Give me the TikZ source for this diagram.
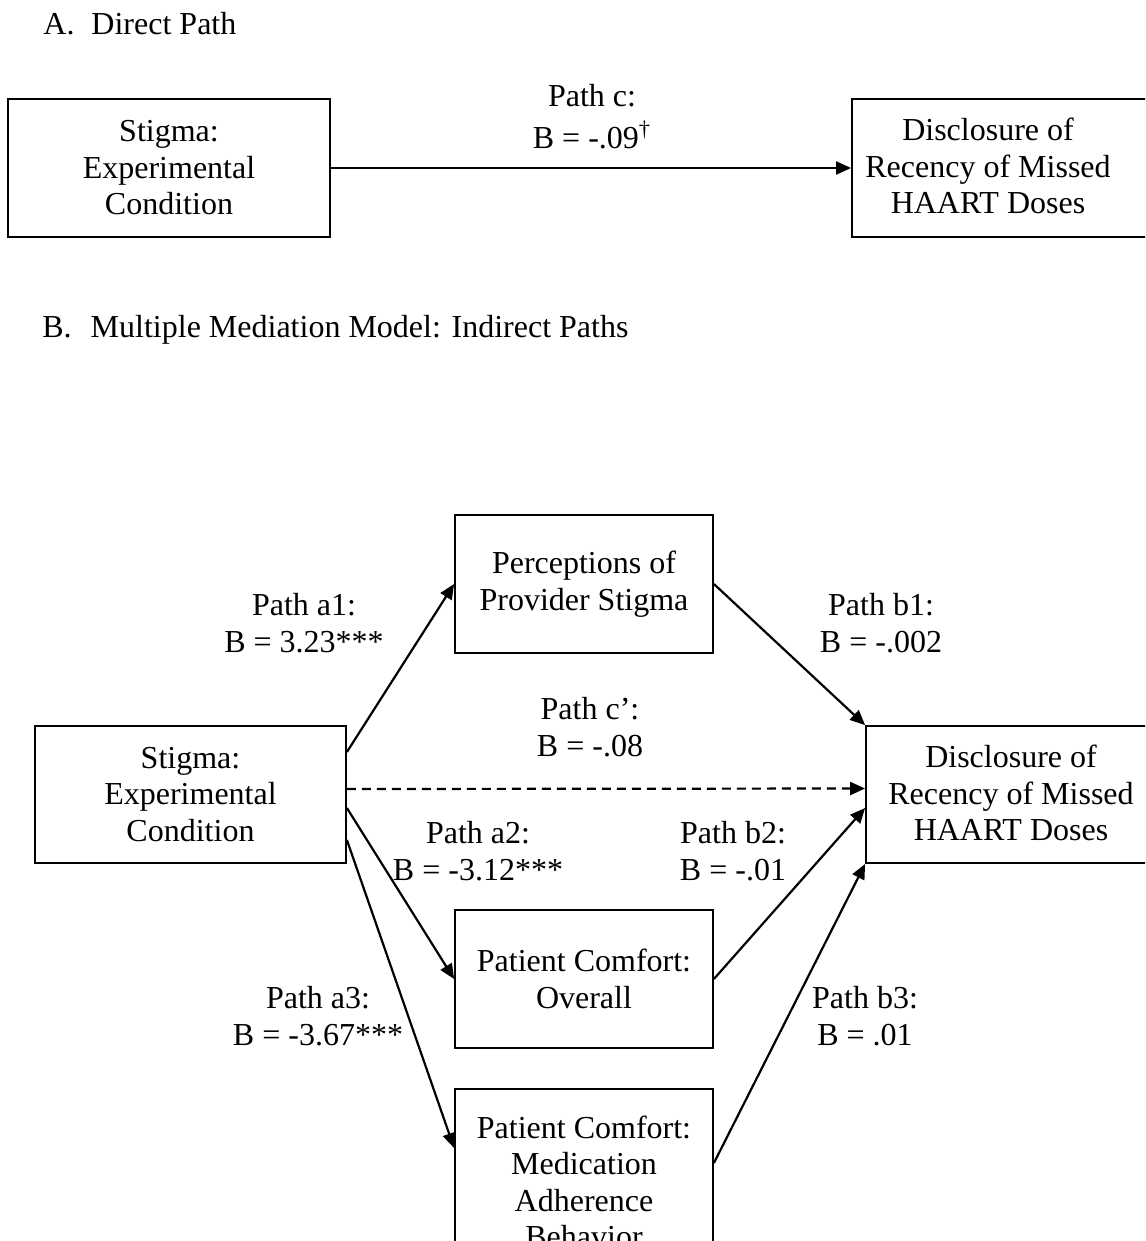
\documentclass[tikz,border=0pt]{standalone}
\usepackage{fontspec}
\setmainfont{Liberation Serif}
\usetikzlibrary{arrows.meta}
\begin{document}
\begin{tikzpicture}[x=0.5pt,y=-0.5pt,
  every node/.style={font=\fontsize{16pt}{18.25pt}\selectfont},
  box/.style={draw, line width=0.9pt, inner sep=0pt, align=center},
  txt/.style={inner sep=0pt, align=center},
  lbl/.style={inner sep=0pt, align=center},
  arr/.style={line width=1.1pt, -{Triangle[length=7.5pt,width=6.5pt]}},
  dasharr/.style={arr, dash pattern=on 4.5pt off 3pt},
]
\useasboundingbox (0,0) rectangle (1145,1241);
\clip (0,0) rectangle (1145,1241);

% Titles
\node[anchor=base west, inner sep=0pt] (tA) at (43,35) {A.\hspace{8.5pt}Direct Path};
\node[anchor=base west, inner sep=0pt] (tB) at (42,337) {B.\hspace{9.5pt}Multiple Mediation Model: Indirect Paths};

% Panel A
\node[box, minimum width=161pt, minimum height=69pt] (sA) at (169,168) {Stigma:\\Experimental\\Condition};
\node[box, minimum width=159pt, minimum height=69pt] (dA) at (1011,168) {};
\node[txt] (dAt) at (988,166) {Disclosure of\\Recency of Missed\\HAART Doses};
\draw[arr] (sA.east) -- (dA.west);
\node[lbl] (lc) at (592,117) {Path c:\\[2.75pt]B = -.09\textsuperscript{†}};

% Panel B boxes
\node[box, minimum width=155.5pt, minimum height=68.5pt] (S) at (190.5,794.5) {Stigma:\\Experimental\\Condition};
\node[box, minimum width=129pt, minimum height=69pt] (P) at (584,584) {Perceptions of\\Provider Stigma};
\node[box, minimum width=129pt, minimum height=69pt] (O) at (584,979) {Patient Comfort:\\Overall};
\node[box, minimum width=129pt, minimum height=93pt] (M) at (584,1182) {Patient Comfort:\\Medication\\Adherence\\Behavior};
\node[box, minimum width=157pt, minimum height=68.5pt] (D) at (1023,794.5) {};
\node[txt] (Dt) at (1011,793) {Disclosure of\\Recency of Missed\\HAART Doses};

% Panel B connectors
\draw[arr] ([yshift=21.25pt]S.east) -- (P.west);
\draw[dasharr] ([yshift=2.75pt]S.east) -- ([yshift=3pt]D.west);
\draw[arr] ([yshift=-6.75pt]S.east) -- (O.west);
\draw[arr] ([yshift=-22.75pt]S.east) -- ([yshift=17pt]M.west);
\draw[arr] (P.east) -- (D.north west);
\draw[arr] (O.east) -- ([yshift=-6.75pt]D.west);
\draw[arr] ([yshift=9.5pt]M.east) -- (D.south west);

% Panel B labels
\node[lbl] (la1) at (304,623) {Path a1:\\B = 3.23***};
\node[lbl] (lcp) at (590,727) {Path c’:\\B = -.08};
\node[lbl] (lb1) at (881,623) {Path b1:\\B = -.002};
\node[lbl] (la2) at (478,851) {Path a2:\\B = -3.12***};
\node[lbl] (lb2) at (733,851) {Path b2:\\B = -.01};
\node[lbl] (la3) at (318,1016) {Path a3:\\B = -3.67***};
\node[lbl] (lb3) at (865,1016) {Path b3:\\B = .01};
\end{tikzpicture}
\end{document}
